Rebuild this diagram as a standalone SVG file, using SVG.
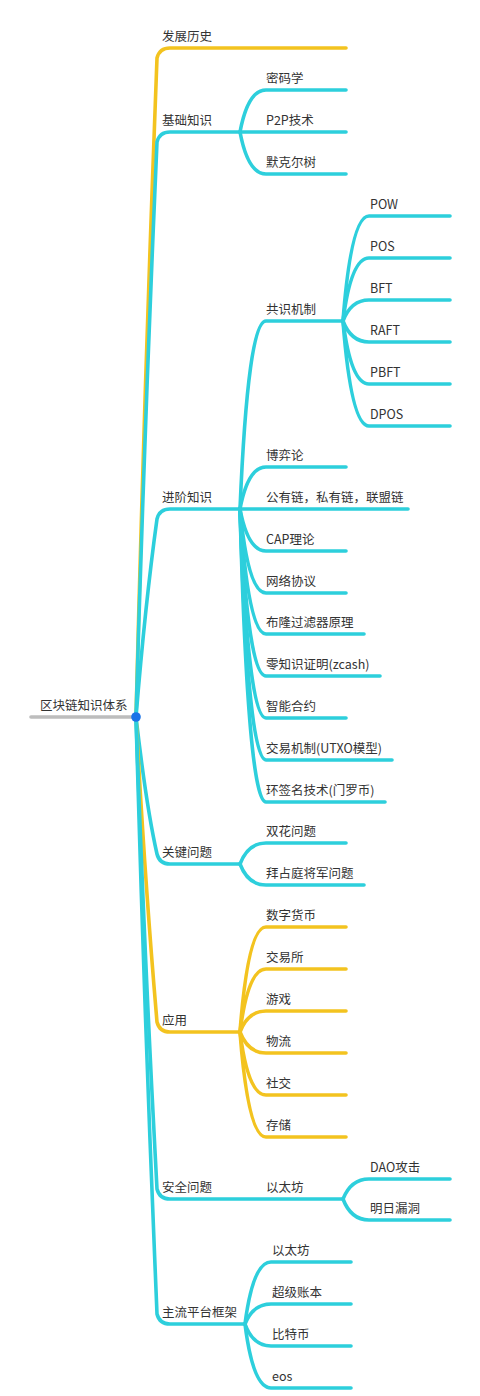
<svg xmlns="http://www.w3.org/2000/svg" width="480" height="1396" viewBox="0 0 480 1396">
<style>
.c{fill:none;stroke:#2DCFDC;stroke-width:3.6;stroke-linecap:round;stroke-linejoin:round}
.y{stroke:#F3C31F}
.g{fill:none;stroke:#BDBDBD;stroke-width:3.6;stroke-linecap:round}
.t{font-family:"Noto Sans CJK SC","Noto Sans",sans-serif;font-size:12.5px;fill:#333}
</style>
<rect width="480" height="1396" fill="#fff"/>
<g id="connectors">
  <!-- level 1 trunks -->
  <path class="c y" d="M136,717 C145,362 152,195 157,58 Q159.5,48 170,48 L346,48"/>
  <path class="c" d="M136,717 C145,407 152,261 157,142 Q159.5,132 170,132 L240,132"/>
  <path class="c" d="M136,717 C145,607 152,555 157,519 Q159.5,509 170,509 L240,509"/>
  <path class="c" d="M136,717 C145,795 152,832 157,854 Q159.5,864 170,864 L240,864"/>
  <path class="c y" d="M136,717 C145,884 152,963 157,1022 Q159.5,1032 170,1032 L240,1032"/>
  <path class="c" d="M136,717 C145,972 152,1093 157,1189 Q159.5,1199 170,1199 L343,1199"/>
  <path class="c" d="M136,717 C145,1039 152,1190 157,1314 Q159.5,1324 170,1324 L245,1324"/>
  <!-- 基础知识 -->
  <path class="c" d="M240,132 Q248,90 266,90 L346,90"/>
  <path class="c" d="M240,132 L346,132"/>
  <path class="c" d="M240,132 Q248,174 266,174 L346,174"/>
  <!-- 进阶知识 -->
  <path class="c" d="M240,509 Q248,321 266,321 L343,321"/>
  <path class="c" d="M240,509 Q248,467 266,467 L346,467"/>
  <path class="c" d="M240,509 L408,509"/>
  <path class="c" d="M240,509 Q248,551 266,551 L346,551"/>
  <path class="c" d="M240,509 Q248,593 266,593 L346,593"/>
  <path class="c" d="M240,509 Q248,634 266,634 L364,634"/>
  <path class="c" d="M240,509 Q248,676 266,676 L380,676"/>
  <path class="c" d="M240,509 Q248,718 266,718 L346,718"/>
  <path class="c" d="M240,509 Q248,760 266,760 L392,760"/>
  <path class="c" d="M240,509 Q248,802 266,802 L385,802"/>
  <!-- 共识机制 -->
  <path class="c" d="M343,321 Q351,216 369,216 L450,216"/>
  <path class="c" d="M343,321 Q351,258 369,258 L450,258"/>
  <path class="c" d="M343,321 Q351,300 369,300 L450,300"/>
  <path class="c" d="M343,321 Q351,342 369,342 L450,342"/>
  <path class="c" d="M343,321 Q351,384 369,384 L450,384"/>
  <path class="c" d="M343,321 Q351,426 369,426 L450,426"/>
  <!-- 关键问题 -->
  <path class="c" d="M240,864 Q248,843 266,843 L346,843"/>
  <path class="c" d="M240,864 Q248,885 266,885 L364,885"/>
  <!-- 应用 -->
  <path class="c y" d="M240,1032 Q248,927 266,927 L346,927"/>
  <path class="c y" d="M240,1032 Q248,969 266,969 L346,969"/>
  <path class="c y" d="M240,1032 Q248,1011 266,1011 L346,1011"/>
  <path class="c y" d="M240,1032 Q248,1053 266,1053 L346,1053"/>
  <path class="c y" d="M240,1032 Q248,1095 266,1095 L346,1095"/>
  <path class="c y" d="M240,1032 Q248,1137 266,1137 L346,1137"/>
  <!-- 安全问题 / 以太坊 -->
  <path class="c" d="M343,1199 Q351,1179 369,1179 L450,1179"/>
  <path class="c" d="M343,1199 Q351,1220 369,1220 L450,1220"/>
  <!-- 主流平台框架 -->
  <path class="c" d="M245,1324 Q253,1262 271,1262 L351,1262"/>
  <path class="c" d="M245,1324 Q253,1304 271,1304 L351,1304"/>
  <path class="c" d="M245,1324 Q253,1346 271,1346 L351,1346"/>
  <path class="c" d="M245,1324 Q253,1388 271,1388 L351,1388"/>
</g>
<g id="root">
  <line class="g" x1="31" y1="717" x2="136" y2="717"/>
  <circle cx="136" cy="717" r="4.8" fill="#1A73E8"/>
  <text class="t" x="40" y="710">区块链知识体系</text>
</g>
<g id="n-history"><text class="t" x="162" y="41">发展历史</text></g>
<g id="n-basic"><text class="t" x="162" y="125">基础知识</text></g>
<g id="n-crypto"><text class="t" x="266" y="83">密码学</text></g>
<g id="n-p2p"><text class="t" x="266" y="125">P2P技术</text></g>
<g id="n-merkle"><text class="t" x="266" y="167">默克尔树</text></g>
<g id="n-advanced"><text class="t" x="162" y="502">进阶知识</text></g>
<g id="n-consensus"><text class="t" x="266" y="314">共识机制</text></g>
<g id="n-pow"><text class="t" x="370" y="209">POW</text></g>
<g id="n-pos"><text class="t" x="370" y="251">POS</text></g>
<g id="n-bft"><text class="t" x="370" y="293">BFT</text></g>
<g id="n-raft"><text class="t" x="370" y="335">RAFT</text></g>
<g id="n-pbft"><text class="t" x="370" y="377">PBFT</text></g>
<g id="n-dpos"><text class="t" x="370" y="419">DPOS</text></g>
<g id="n-game"><text class="t" x="266" y="460">博弈论</text></g>
<g id="n-chains"><text class="t" x="266" y="502">公有链，私有链，联盟链</text></g>
<g id="n-cap"><text class="t" x="266" y="544">CAP理论</text></g>
<g id="n-net"><text class="t" x="266" y="586">网络协议</text></g>
<g id="n-bloom"><text class="t" x="266" y="627">布隆过滤器原理</text></g>
<g id="n-zk"><text class="t" x="266" y="669">零知识证明(zcash)</text></g>
<g id="n-contract"><text class="t" x="266" y="711">智能合约</text></g>
<g id="n-utxo"><text class="t" x="266" y="753">交易机制(UTXO模型)</text></g>
<g id="n-ring"><text class="t" x="266" y="795">环签名技术(门罗币)</text></g>
<g id="n-key"><text class="t" x="162" y="857">关键问题</text></g>
<g id="n-double"><text class="t" x="266" y="836">双花问题</text></g>
<g id="n-byz"><text class="t" x="266" y="878">拜占庭将军问题</text></g>
<g id="n-app"><text class="t" x="162" y="1025">应用</text></g>
<g id="n-coin"><text class="t" x="266" y="920">数字货币</text></g>
<g id="n-exchange"><text class="t" x="266" y="962">交易所</text></g>
<g id="n-gaming"><text class="t" x="266" y="1004">游戏</text></g>
<g id="n-logistics"><text class="t" x="266" y="1046">物流</text></g>
<g id="n-social"><text class="t" x="266" y="1088">社交</text></g>
<g id="n-storage"><text class="t" x="266" y="1130">存储</text></g>
<g id="n-security"><text class="t" x="162" y="1192">安全问题</text></g>
<g id="n-eth1"><text class="t" x="266" y="1192">以太坊</text></g>
<g id="n-dao"><text class="t" x="370" y="1172">DAO攻击</text></g>
<g id="n-tomorrow"><text class="t" x="370" y="1213">明日漏洞</text></g>
<g id="n-platform"><text class="t" x="162" y="1317">主流平台框架</text></g>
<g id="n-eth2"><text class="t" x="272" y="1255">以太坊</text></g>
<g id="n-hyper"><text class="t" x="272" y="1297">超级账本</text></g>
<g id="n-btc"><text class="t" x="272" y="1339">比特币</text></g>
<g id="n-eos"><text class="t" x="272" y="1381">eos</text></g>
</svg>
